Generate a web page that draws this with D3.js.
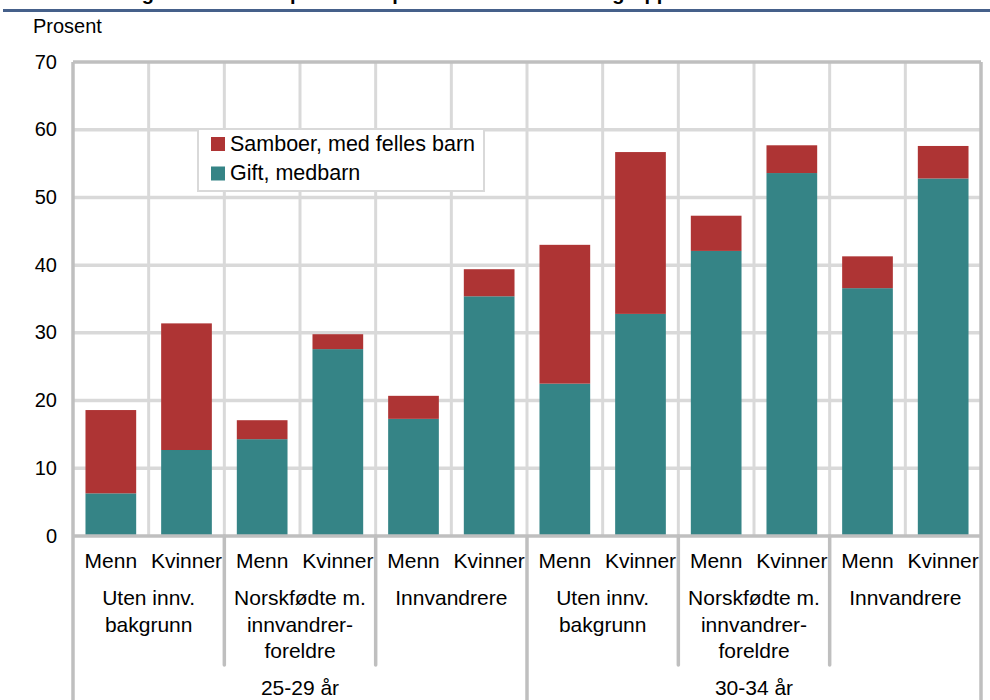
<!DOCTYPE html>
<html>
<head>
<meta charset="utf-8">
<script src="https://cdn.jsdelivr.net/npm/d3@7"></script>
<style>
  body { margin: 0; background: #fff; }
  svg { display: block; font-family: "Liberation Sans", Arial, sans-serif; }
</style>
</head>
<body>
<div id="chart"></div>
<script>
// data
const ages = ["25-29 år", "30-34 år"];
const groups = [["Uten innv.", "bakgrunn"], ["Norskfødte m.", "innvandrer-", "foreldre"], ["Innvandrere"]];
const sexes = ["Menn", "Kvinner"];
const gift = [6.3, 12.7, 14.3, 27.6, 17.3, 35.4, 22.5, 32.8, 42.1, 53.6, 36.6, 52.8];
const samboer = [12.3, 18.7, 2.8, 2.2, 3.4, 4.0, 20.5, 23.9, 5.2, 4.1, 4.7, 4.8];
const seriesNames = ["Samboer, med felles barn", "Gift, medbarn"];
const yTicks = [0, 10, 20, 30, 40, 50, 60, 70];

const categories = [];
ages.forEach((a, ai) => groups.forEach((g, gi) => sexes.forEach((s, si) => {
  categories.push({ id: ai + "-" + gi + "-" + si, age: a, group: g, sex: s });
})));
const rows = categories.map((c, i) => ({ id: c.id, sex: c.sex, gift: gift[i], samboer: samboer[i] }));

const width = 990, height = 700;
const margin = { left: 73, right: 9, top: 62, bottom: 164 };
const svg = d3.select("#chart").append("svg").attr("width", width).attr("height", height);

const red = "#ae3434", teal = "#358486";
const gridCol = "#d9d9d9", axisCol = "#bfbfbf";

// title is cut off at the top edge, only descenders show
svg.append("text").attr("x", 124).attr("y", 0)
  .attr("font-size", 20).attr("font-weight", "bold").attr("fill", "#000")
  .text("Figur 3. Andel av personer i par etter tre innvandrergrupper");
svg.append("line").attr("x1", 3).attr("x2", width).attr("y1", 10.5).attr("y2", 10.5)
  .attr("stroke", "#45608a").attr("stroke-width", 3);

const x = d3.scaleBand().domain(categories.map(d => d.id))
  .range([margin.left, width - margin.right]).paddingInner(0.33).paddingOuter(0.165);
const y = d3.scaleLinear().domain([0, 70]).range([height - margin.bottom, margin.top]);
const step = x.step();
const x0 = margin.left, x1 = width - margin.right;
const y0 = y(0);

// gridlines
svg.append("g").selectAll("line").data(yTicks.filter(t => t > 0 && t < 70)).join("line")
  .attr("x1", x0).attr("x2", x1).attr("y1", d => y(d)).attr("y2", d => y(d))
  .attr("stroke", gridCol).attr("stroke-width", 3.5);
svg.append("g").selectAll("line").data(d3.range(1, categories.length)).join("line")
  .attr("x1", d => x0 + d * step).attr("x2", d => x0 + d * step)
  .attr("y1", y(70)).attr("y2", y0)
  .attr("stroke", gridCol).attr("stroke-width", 3);

// bars
const stack = d3.stack().keys(["gift", "samboer"])(rows);
const colors = { gift: teal, samboer: red };
svg.append("g").selectAll("g").data(stack).join("g")
  .attr("fill", d => colors[d.key])
  .selectAll("rect").data(d => d).join("rect")
  .attr("x", d => x(d.data.id)).attr("width", x.bandwidth())
  .attr("y", d => y(d[1])).attr("height", d => y(d[0]) - y(d[1]));

// frame
const frame = svg.append("g").attr("stroke", axisCol).attr("stroke-width", 3.5).attr("fill", "none");
frame.append("line").attr("x1", x0).attr("x2", x1).attr("y1", y(70)).attr("y2", y(70));
frame.append("line").attr("x1", x1).attr("x2", x1).attr("y1", y(70)).attr("y2", height);
frame.append("line").attr("x1", x0).attr("x2", x0).attr("y1", y(70)).attr("y2", height);
frame.append("line").attr("x1", x0).attr("x2", x1).attr("y1", y0).attr("y2", y0);
// separators below the axis
const perGroup = sexes.length, perAge = groups.length * sexes.length;
frame.selectAll(".gsep").data(d3.range(1, categories.length / perGroup).filter(k => (k * perGroup) % perAge !== 0))
  .join("line").attr("class", "gsep")
  .attr("x1", k => x0 + k * perGroup * step).attr("x2", k => x0 + k * perGroup * step)
  .attr("y1", y0).attr("y2", 665).attr("stroke-linecap", "round");
frame.selectAll(".asep").data(d3.range(1, ages.length)).join("line").attr("class", "asep")
  .attr("x1", k => x0 + k * perAge * step).attr("x2", k => x0 + k * perAge * step)
  .attr("y1", y0).attr("y2", height);

// y axis labels
svg.append("g").selectAll("text").data(yTicks).join("text")
  .attr("x", 57).attr("y", d => y(d)).attr("dy", "0.33em")
  .attr("text-anchor", "end").attr("font-size", 20).attr("fill", "#000")
  .text(d => d);
svg.append("text").attr("x", 33).attr("y", 33).attr("font-size", 20).attr("fill", "#000").text("Prosent");

// x labels
svg.append("g").selectAll("text").data(categories).join("text")
  .attr("x", d => x(d.id) + x.bandwidth() / 2).attr("y", 568)
  .attr("text-anchor", "middle").attr("font-size", 21).attr("fill", "#000")
  .text(d => d.sex);
const groupCells = categories.filter((d, i) => i % perGroup === 0);
const gl = svg.append("g").selectAll("text").data(groupCells).join("text")
  .attr("text-anchor", "middle").attr("font-size", 21).attr("fill", "#000")
  .attr("y", 605);
gl.selectAll("tspan").data((d, i) => d.group.map(t => ({ t, cx: x0 + (i + 0.5) * perGroup * step })))
  .join("tspan").attr("x", d => d.cx).attr("dy", (d, i) => i === 0 ? 0 : 26.5).text(d => d.t);
svg.append("g").selectAll("text").data(ages).join("text")
  .attr("x", (d, i) => x0 + (i + 0.5) * perAge * step).attr("y", 695)
  .attr("text-anchor", "middle").attr("font-size", 21).attr("fill", "#000")
  .text(d => d);

// legend
const lg = svg.append("g");
lg.append("rect").attr("x", 198).attr("y", 129).attr("width", 286).attr("height", 62)
  .attr("fill", "#fff").attr("stroke", gridCol).attr("stroke-width", 2);
const legendColors = [red, teal];
seriesNames.forEach((n, i) => {
  lg.append("rect").attr("x", 211).attr("y", 137 + i * 29.5).attr("width", 14).attr("height", 14)
    .attr("fill", legendColors[i]);
  lg.append("text").attr("x", 230).attr("y", 150.5 + i * 29.5).attr("font-size", 21.5).attr("fill", "#000")
    .text(n);
});
</script>
</body>
</html>
